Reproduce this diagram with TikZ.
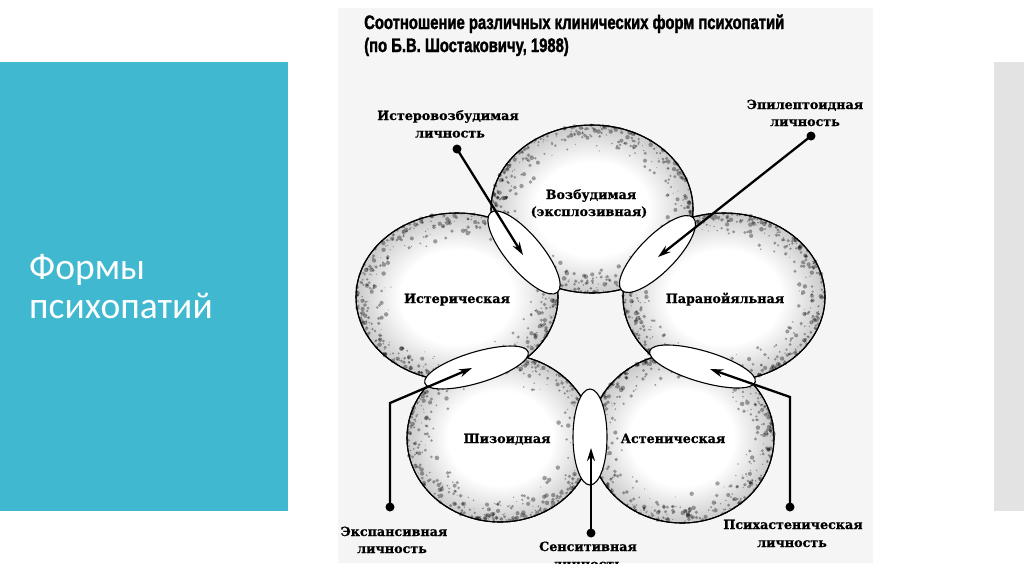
\documentclass[tikz,border=0pt]{standalone}
\usepackage{fontspec}
\setmainfont{DejaVu Serif}
\newfontfamily\labfont[BoldFeatures={FakeBold=0.8}]{DejaVu Serif}
\newfontfamily\titfont[FakeStretch=0.76, BoldFeatures={FakeBold=1.6}]{Liberation Sans}
\newfontfamily\slidefont{Carlito}
\usetikzlibrary{arrows.meta,calc}
\definecolor{slideblue}{HTML}{3FB8D0}
\definecolor{bargray}{HTML}{E3E3E3}
\definecolor{imgbg}{HTML}{F5F5F5}
\pgfdeclareradialshading{ring}{\pgfpoint{0bp}{0bp}}{color(0bp)=(white); color(14bp)=(white); color(19bp)=(gray!18); color(24.5bp)=(gray!40); color(25bp)=(gray!40); color(50bp)=(gray!40)}
\tikzset{
  slidetext/.style={font=\slidefont\fontsize{37.5}{44}\selectfont, text=white, anchor=base west, inner sep=0},
  titletext/.style={font=\titfont\bfseries\fontsize{19.5}{23}\selectfont, anchor=base west, inner sep=0},
  lab/.style={font=\labfont\bfseries\fontsize{12.7}{15}\selectfont, anchor=base, inner sep=0},
  blob/.style={shading=ring, draw=black, line width=1.1pt},
  lensshape/.style={fill=white, draw=black, line width=1.1pt},
  arr/.style={line width=2.3pt, -{Stealth[length=13pt,width=8pt]}},
  dotmark/.style={circle, fill=black, inner sep=0, minimum size=9pt},
}
\newcommand{\speckle}[4]{% center, rx, ry, count
  \foreach \i in {1,...,#4}{
    \pgfmathsetmacro\ang{rnd*360}
    \pgfmathsetmacro\rr{1-0.36*rnd*rnd}
    \pgfmathsetmacro\sz{0.5+1.8*rnd}
    \fill[black, opacity=0.35] ($(#1)+({\rr*#2*cos(\ang)},{\rr*#3*sin(\ang)})$) circle[radius=\sz pt];
  }%
}
\begin{document}
\begin{tikzpicture}[x=1pt,y=-1pt]
\useasboundingbox (0,0) rectangle (1024,574);
\fill[white] (0,0) rectangle (1024,574);
\fill[slideblue] (0,62) rectangle (288,511);
\fill[bargray] (994,62) rectangle (1024,511);
\node[slidetext] (s1) at (29,279) {Формы};
\node[slidetext] (s2) at (29,318) {психопатий};

\fill[imgbg] (338,8) rectangle (873,563);
\begin{scope}
\clip (338,8) rectangle (873,563);
\pgfmathsetseed{7}
\coordinate (cT) at (592,209);
\coordinate (cL) at (457,297);
\coordinate (cR) at (724,297);
\coordinate (cBL) at (500,438);
\coordinate (cBR) at (682,438);

\shade[blob] (cT) ellipse [x radius=101pt, y radius=84pt];
\speckle{cT}{101}{84}{520}
\shade[blob] (cL) ellipse [x radius=101pt, y radius=84pt];
\speckle{cL}{101}{84}{520}
\shade[blob] (cR) ellipse [x radius=101pt, y radius=84pt];
\speckle{cR}{101}{84}{520}
\shade[blob] (cBL) ellipse [x radius=93pt, y radius=84pt];
\speckle{cBL}{93}{84}{500}
\shade[blob] (cBR) ellipse [x radius=92pt, y radius=85pt];
\speckle{cBR}{92}{85}{500}
\draw[line width=1.1pt] (cT) ellipse [x radius=101pt, y radius=84pt];
\draw[line width=1.1pt] (cL) ellipse [x radius=101pt, y radius=84pt];
\draw[line width=1.1pt] (cR) ellipse [x radius=101pt, y radius=84pt];
\draw[line width=1.1pt] (cBL) ellipse [x radius=93pt, y radius=84pt];
\draw[line width=1.1pt] (cBR) ellipse [x radius=92pt, y radius=85pt];

% lenses
\coordinate (lTL) at (524,252.5);
\coordinate (lTR) at (657.5,254);
\coordinate (lBL) at (476.5,367.5);
\coordinate (lBR) at (702.5,366.5);
\coordinate (lB) at (590,437);
\draw[lensshape, rotate around={-50.1:(lTL)}] (lTL) ellipse [x radius=52pt, y radius=18pt];
\draw[lensshape, rotate around={45.4:(lTR)}] (lTR) ellipse [x radius=51pt, y radius=18pt];
\draw[lensshape, rotate around={16.7:(lBL)}] (lBL) ellipse [x radius=54pt, y radius=15.5pt];
\draw[lensshape, rotate around={-16.4:(lBR)}] (lBR) ellipse [x radius=55pt, y radius=15.5pt];
\draw[lensshape] (lB) ellipse [x radius=17pt, y radius=48pt];

% circle labels
\node[lab] (nT1) at (591,199) {Возбудимая};
\node[lab] (nT2) at (589,216) {(эксплозивная)};
\node[lab] (nL) at (457,303) {Истерическая};
\node[lab] (nR) at (725,303) {Паранойяльная};
\node[lab] (nBL) at (507,443) {Шизоидная};
\node[lab] (nBR) at (673,443) {Астеническая};

% outer labels
\node[lab] (a1) at (448,120) {Истеровозбудимая};
\node[lab] (a2) at (450,137.5) {личность};
\node[lab] (b1) at (805,109) {Эпилептоидная};
\node[lab] (b2) at (805,126) {личность};
\node[lab] (c1) at (394,536) {Экспансивная};
\node[lab] (c2) at (392,553) {личность};
\node[lab] (d1) at (588,551) {Сенситивная};
\node[lab] (d2) at (588,568.5) {личность};
\node[lab] (e1) at (793,529) {Психастеническая};
\node[lab] (e2) at (792,547) {личность};

% arrows
\node[dotmark] (pA) at (457,149) {};
\node[dotmark] (pB) at (811,136) {};
\node[dotmark] (pC) at (390,507) {};
\node[dotmark] (pD) at (591,533) {};
\node[dotmark] (pE) at (790,507) {};
\coordinate (tA) at (523,255);
\coordinate (tB) at (658,257);
\coordinate (kC) at (390,403);
\coordinate (tC) at (472,368);
\coordinate (tD) at (591,448);
\coordinate (kE) at (790,397);
\coordinate (tE) at (710,369);
\draw[arr] (pA.center) -- (tA);
\draw[arr] (pB.center) -- (tB);
\draw[arr, line join=miter] (pC.center) -- (kC) -- (tC);
\draw[arr] (pD.center) -- (tD);
\draw[arr, line join=miter] (pE.center) -- (kE) -- (tE);
\end{scope}

\node[titletext] (t1) at (364,29) {Соотношение различных клинических форм психопатий};
\node[titletext] (t2) at (364,52) {(по Б.В. Шостаковичу, 1988)};
\end{tikzpicture}
\end{document}
